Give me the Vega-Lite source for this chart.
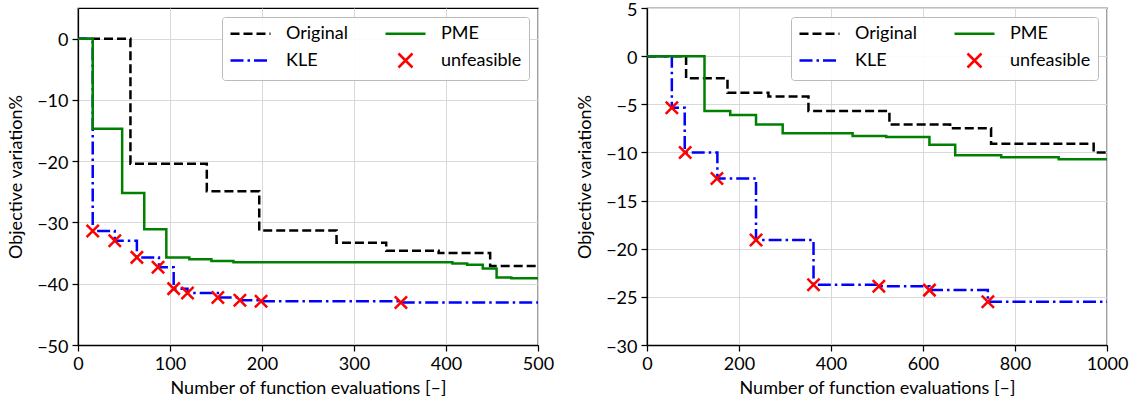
{
  "$schema": "https://vega.github.io/schema/vega-lite/v6.json",
  "background": "white",
  "padding": {"left": 6, "top": 0, "right": 0, "bottom": 0},
  "datasets": {
    "left": [
      {"x": 0, "y": 0, "series": "Original"}, {"x": 57, "y": -20.4, "series": "Original"}, {"x": 140, "y": -24.9, "series": "Original"}, {"x": 197, "y": -31.3, "series": "Original"}, {"x": 281, "y": -33.3, "series": "Original"}, {"x": 335, "y": -34.6, "series": "Original"}, {"x": 392, "y": -35.0, "series": "Original"}, {"x": 448, "y": -37.1, "series": "Original"}, {"x": 500, "y": -37.1, "series": "Original"},
      {"x": 0, "y": 0, "series": "KLE"}, {"x": 16, "y": -31.4, "series": "KLE"}, {"x": 40, "y": -33.0, "series": "KLE"}, {"x": 64, "y": -35.7, "series": "KLE"}, {"x": 88, "y": -37.3, "series": "KLE"}, {"x": 104, "y": -40.8, "series": "KLE"}, {"x": 119, "y": -41.5, "series": "KLE"}, {"x": 152, "y": -42.25, "series": "KLE"}, {"x": 176, "y": -42.7, "series": "KLE"}, {"x": 199, "y": -42.85, "series": "KLE"}, {"x": 351, "y": -43.05, "series": "KLE"}, {"x": 500, "y": -43.05, "series": "KLE"},
      {"x": 0, "y": 0, "series": "PME"}, {"x": 16, "y": -14.7, "series": "PME"}, {"x": 48, "y": -25.2, "series": "PME"}, {"x": 72, "y": -31.1, "series": "PME"}, {"x": 96, "y": -35.7, "series": "PME"}, {"x": 121, "y": -36.0, "series": "PME"}, {"x": 145, "y": -36.3, "series": "PME"}, {"x": 169, "y": -36.5, "series": "PME"}, {"x": 407, "y": -36.7, "series": "PME"}, {"x": 423, "y": -36.9, "series": "PME"}, {"x": 440, "y": -37.5, "series": "PME"}, {"x": 455, "y": -39.0, "series": "PME"}, {"x": 471, "y": -39.1, "series": "PME"}, {"x": 500, "y": -39.1, "series": "PME"},
      {"x": 16, "y": -31.4, "series": "unfeasible"}, {"x": 40, "y": -33.0, "series": "unfeasible"}, {"x": 64, "y": -35.7, "series": "unfeasible"}, {"x": 87, "y": -37.3, "series": "unfeasible"}, {"x": 104, "y": -40.8, "series": "unfeasible"}, {"x": 119, "y": -41.5, "series": "unfeasible"}, {"x": 152, "y": -42.25, "series": "unfeasible"}, {"x": 176, "y": -42.7, "series": "unfeasible"}, {"x": 199, "y": -42.85, "series": "unfeasible"}, {"x": 351, "y": -43.05, "series": "unfeasible"}
    ],
    "right": [
      {"x": 0, "y": 0, "series": "Original"}, {"x": 85, "y": -2.3, "series": "Original"}, {"x": 175, "y": -3.8, "series": "Original"}, {"x": 264, "y": -4.2, "series": "Original"}, {"x": 351, "y": -5.7, "series": "Original"}, {"x": 527, "y": -7.1, "series": "Original"}, {"x": 659, "y": -7.5, "series": "Original"}, {"x": 748, "y": -9.1, "series": "Original"}, {"x": 971, "y": -10.0, "series": "Original"}, {"x": 1000, "y": -10.0, "series": "Original"},
      {"x": 0, "y": 0, "series": "KLE"}, {"x": 54, "y": -5.35, "series": "KLE"}, {"x": 82, "y": -10.0, "series": "KLE"}, {"x": 153, "y": -12.7, "series": "KLE"}, {"x": 237, "y": -19.1, "series": "KLE"}, {"x": 362, "y": -23.75, "series": "KLE"}, {"x": 504, "y": -23.9, "series": "KLE"}, {"x": 614, "y": -24.3, "series": "KLE"}, {"x": 741, "y": -25.5, "series": "KLE"}, {"x": 1000, "y": -25.5, "series": "KLE"},
      {"x": 0, "y": 0, "series": "PME"}, {"x": 125, "y": -5.7, "series": "PME"}, {"x": 181, "y": -6.1, "series": "PME"}, {"x": 237, "y": -7.1, "series": "PME"}, {"x": 295, "y": -8.0, "series": "PME"}, {"x": 447, "y": -8.3, "series": "PME"}, {"x": 520, "y": -8.4, "series": "PME"}, {"x": 614, "y": -9.2, "series": "PME"}, {"x": 670, "y": -10.3, "series": "PME"}, {"x": 770, "y": -10.5, "series": "PME"}, {"x": 895, "y": -10.7, "series": "PME"}, {"x": 1000, "y": -10.7, "series": "PME"},
      {"x": 54, "y": -5.35, "series": "unfeasible"}, {"x": 83, "y": -10.0, "series": "unfeasible"}, {"x": 152, "y": -12.7, "series": "unfeasible"}, {"x": 237, "y": -19.1, "series": "unfeasible"}, {"x": 362, "y": -23.75, "series": "unfeasible"}, {"x": 504, "y": -23.9, "series": "unfeasible"}, {"x": 614, "y": -24.3, "series": "unfeasible"}, {"x": 741, "y": -25.5, "series": "unfeasible"}
    ]
  },
  "spacing": 109,
  "bounds": "flush",
  "resolve": {
    "scale": {"x": "independent", "y": "independent", "color": "independent", "strokeDash": "independent"},
    "legend": {"color": "independent"}
  },
  "hconcat": [
    {
      "width": 460, "height": 337,
      "data": {"name": "left"},
      "encoding": {
        "x": {"field": "x", "type": "quantitative", "title": "Number of function evaluations [–]", "scale": {"domain": [0, 500], "nice": false, "zero": false}, "axis": {"values": [0, 100, 200, 300, 400, 500], "format": "d"}},
        "y": {"field": "y", "type": "quantitative", "title": "Objective variation%", "scale": {"domain": [-50, 5], "nice": false, "zero": false}, "axis": {"values": [-50, -40, -30, -20, -10, 0]}},
        "color": {
          "field": "series", "type": "nominal",
          "scale": {"domain": ["Original", "PME", "KLE", "unfeasible"], "range": ["#000000", "#008000", "#0000ff", "#ff0000"]},
          "legend": {
            "title": null, "orient": "top-right", "offset": 9, "columns": 2, "direction": "horizontal",
            "symbolType": "stroke", "symbolSize": 256, "symbolStrokeWidth": 2.5,
            "labelFont": "Lato", "labelFontSize": 18, "labelColor": "black", "labelOffset": 38,
            "columnPadding": 31, "rowPadding": 5, "padding": 7,
            "fillColor": "rgba(255,255,255,0.9)", "strokeColor": "#bbbbbb", "cornerRadius": 3,
            "encode": {"symbols": {"update": {
              "shape": {"signal": "datum.value === 'unfeasible' ? 'M0.625,-0.875L2.375,0.875M0.625,0.875L2.375,-0.875' : 'M-1,0L4,0'"},
              "strokeDash": {"signal": "datum.value === 'Original' ? [9,4] : datum.value === 'KLE' ? [13,4,2.5,4] : null"},
              "fill": {"value": "transparent"},
              "strokeWidth": {"value": 2.5}
            }}}
          }
        }
      },
      "layer": [
        {"transform": [{"filter": "datum.series === 'Original'"}], "mark": {"type": "line", "interpolate": "step-after", "strokeWidth": 2.5},
         "encoding": {"strokeDash": {"field": "series", "type": "nominal", "scale": {"domain": ["Original", "PME", "KLE"], "range": [[9, 4], [1, 0], [13, 4, 2.5, 4]]}, "legend": null}}},
        {"transform": [{"filter": "datum.series === 'KLE'"}], "mark": {"type": "line", "interpolate": "step-after", "strokeWidth": 2.5},
         "encoding": {"strokeDash": {"field": "series", "type": "nominal", "scale": {"domain": ["Original", "PME", "KLE"], "range": [[9, 4], [1, 0], [13, 4, 2.5, 4]]}, "legend": null}}},
        {"transform": [{"filter": "datum.series === 'PME'"}], "mark": {"type": "line", "interpolate": "step-after", "strokeWidth": 2.5},
         "encoding": {"strokeDash": {"field": "series", "type": "nominal", "scale": {"domain": ["Original", "PME", "KLE"], "range": [[9, 4], [1, 0], [13, 4, 2.5, 4]]}, "legend": null}}},
        {"transform": [{"filter": "datum.series === 'unfeasible'"}], "mark": {"type": "point", "shape": "M-1,-1L1,1M-1,1L1,-1", "filled": false, "size": 150, "strokeWidth": 2.5, "opacity": 1}}
      ]
    },
    {
      "width": 460, "height": 337,
      "data": {"name": "right"},
      "encoding": {
        "x": {"field": "x", "type": "quantitative", "title": "Number of function evaluations [–]", "scale": {"domain": [0, 1000], "nice": false, "zero": false}, "axis": {"values": [0, 200, 400, 600, 800, 1000], "format": "d"}},
        "y": {"field": "y", "type": "quantitative", "title": "Objective variation%", "scale": {"domain": [-30, 5], "nice": false, "zero": false}, "axis": {"values": [-30, -25, -20, -15, -10, -5, 0, 5]}},
        "color": {
          "field": "series", "type": "nominal",
          "scale": {"domain": ["Original", "PME", "KLE", "unfeasible"], "range": ["#000000", "#008000", "#0000ff", "#ff0000"]},
          "legend": {
            "title": null, "orient": "top-right", "offset": 9, "columns": 2, "direction": "horizontal",
            "symbolType": "stroke", "symbolSize": 256, "symbolStrokeWidth": 2.5,
            "labelFont": "Lato", "labelFontSize": 18, "labelColor": "black", "labelOffset": 38,
            "columnPadding": 31, "rowPadding": 5, "padding": 7,
            "fillColor": "rgba(255,255,255,0.9)", "strokeColor": "#bbbbbb", "cornerRadius": 3,
            "encode": {"symbols": {"update": {
              "shape": {"signal": "datum.value === 'unfeasible' ? 'M0.625,-0.875L2.375,0.875M0.625,0.875L2.375,-0.875' : 'M-1,0L4,0'"},
              "strokeDash": {"signal": "datum.value === 'Original' ? [9,4] : datum.value === 'KLE' ? [13,4,2.5,4] : null"},
              "fill": {"value": "transparent"},
              "strokeWidth": {"value": 2.5}
            }}}
          }
        }
      },
      "layer": [
        {"transform": [{"filter": "datum.series === 'Original'"}], "mark": {"type": "line", "interpolate": "step-after", "strokeWidth": 2.5},
         "encoding": {"strokeDash": {"field": "series", "type": "nominal", "scale": {"domain": ["Original", "PME", "KLE"], "range": [[9, 4], [1, 0], [13, 4, 2.5, 4]]}, "legend": null}}},
        {"transform": [{"filter": "datum.series === 'KLE'"}], "mark": {"type": "line", "interpolate": "step-after", "strokeWidth": 2.5},
         "encoding": {"strokeDash": {"field": "series", "type": "nominal", "scale": {"domain": ["Original", "PME", "KLE"], "range": [[9, 4], [1, 0], [13, 4, 2.5, 4]]}, "legend": null}}},
        {"transform": [{"filter": "datum.series === 'PME'"}], "mark": {"type": "line", "interpolate": "step-after", "strokeWidth": 2.5},
         "encoding": {"strokeDash": {"field": "series", "type": "nominal", "scale": {"domain": ["Original", "PME", "KLE"], "range": [[9, 4], [1, 0], [13, 4, 2.5, 4]]}, "legend": null}}},
        {"transform": [{"filter": "datum.series === 'unfeasible'"}], "mark": {"type": "point", "shape": "M-1,-1L1,1M-1,1L1,-1", "filled": false, "size": 150, "strokeWidth": 2.5, "opacity": 1}}
      ]
    }
  ],
  "config": {
    "view": {"stroke": "black", "strokeWidth": 1.25},
    "font": "Lato",
    "axis": {
      "domainColor": "black", "domainWidth": 1.25, "tickColor": "black", "tickWidth": 1.25, "tickSize": 6,
      "labelFont": "Lato", "labelFontSize": 18, "labelColor": "black", "labelPadding": 4, "labelOverlap": false, "labelFlush": false,
      "titleFont": "Lato", "titleFontSize": 18, "titleFontWeight": "normal", "titleColor": "black",
      "gridColor": "#d9d9d9", "gridWidth": 1
    },
    "axisY": {"minExtent": 46, "maxExtent": 46, "titlePadding": 7, "labelOffset": 2},
    "axisX": {"titlePadding": 6}
  }
}
